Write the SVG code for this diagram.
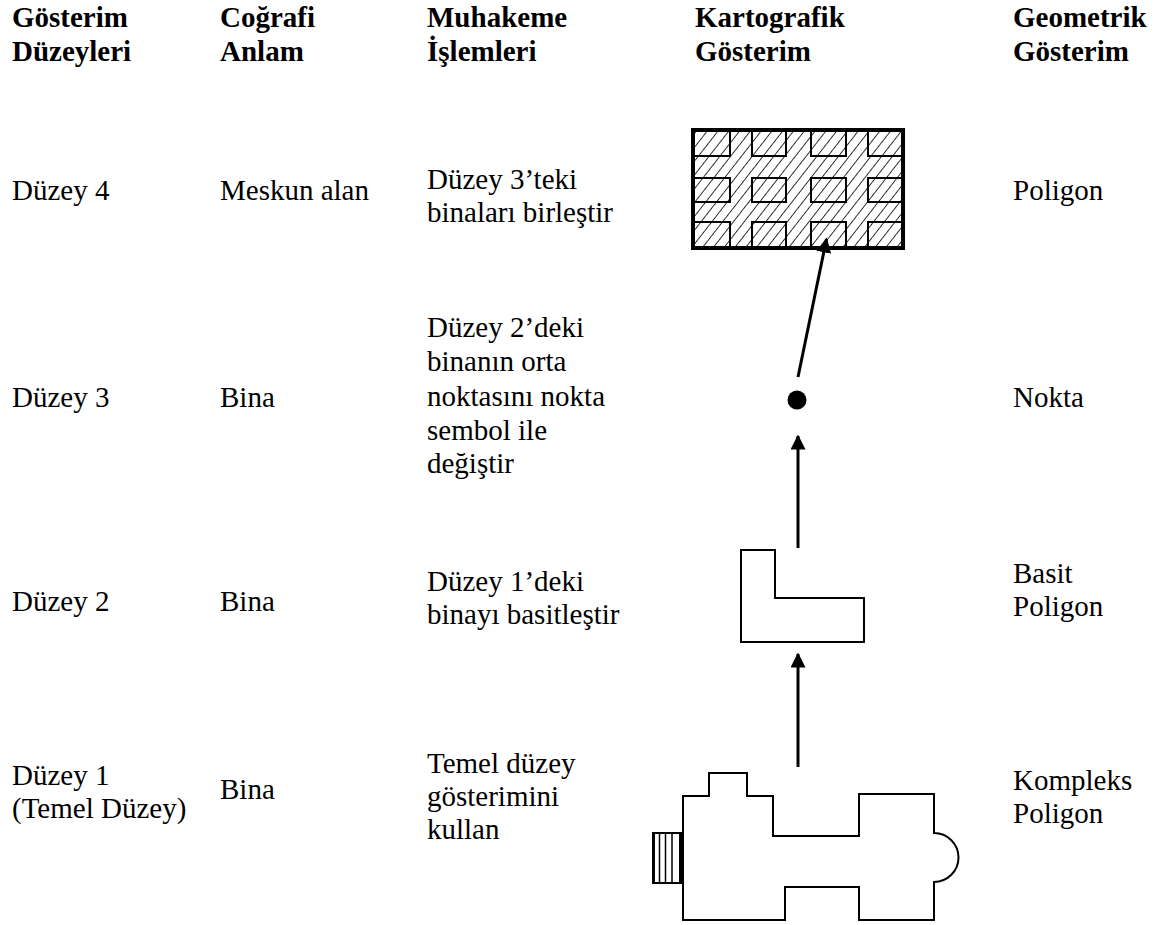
<svg xmlns="http://www.w3.org/2000/svg" width="1159" height="925" viewBox="0 0 1159 925">
<style>
.t text{font-size:29px;fill:#000}
.h{font-weight:bold}
.ln{fill:none;stroke:#000;stroke-width:2}
.ar{fill:none;stroke:#000;stroke-width:3}
</style>
<defs>
<marker id="ah" viewBox="0 0 10 10" refX="9" refY="5" markerWidth="5" markerHeight="5" markerUnits="strokeWidth" orient="auto">
<path d="M0,0 L10,5 L0,10 z" fill="#000"/>
</marker>
<pattern id="hatch" patternUnits="userSpaceOnUse" width="8.5" height="8.5" patternTransform="rotate(38)">
<line x1="0" y1="0" x2="0" y2="8.5" stroke="#000" stroke-width="1.6"/>
</pattern>
</defs>
<rect width="1159" height="925" fill="#fff"/>
<g class="t" font-family="Liberation Serif, Tinos, Times New Roman, DejaVu Serif, serif">
<g id="headers">
<text class="h" x="12" y="27">Gösterim</text><text class="h" x="12" y="61">Düzeyleri</text>
<text class="h" x="220" y="27">Coğrafi</text><text class="h" x="220" y="61">Anlam</text>
<text class="h" x="427" y="27">Muhakeme</text><text class="h" x="427" y="61">İşlemleri</text>
<text class="h" x="695" y="27">Kartografik</text><text class="h" x="695" y="61">Gösterim</text>
<text class="h" x="1013" y="27">Geometrik</text><text class="h" x="1013" y="61">Gösterim</text>
</g>
<g id="row4">
<text x="12" y="200">Düzey 4</text>
<text x="220" y="200">Meskun alan</text>
<text x="427" y="189">Düzey 3’teki</text><text x="427" y="222">binaları birleştir</text>
<text x="1013" y="200">Poligon</text>
</g>
<g id="row3">
<text x="12" y="407">Düzey 3</text>
<text x="220" y="407">Bina</text>
<text x="427" y="337">Düzey 2’deki</text><text x="427" y="371">binanın orta</text><text x="427" y="406">noktasını nokta</text><text x="427" y="440">sembol ile</text><text x="427" y="473">değiştir</text>
<text x="1013" y="407">Nokta</text>
</g>
<g id="row2">
<text x="12" y="611">Düzey 2</text>
<text x="220" y="611">Bina</text>
<text x="427" y="591">Düzey 1’deki</text><text x="427" y="624">binayı basitleştir</text>
<text x="1013" y="583">Basit</text><text x="1013" y="616">Poligon</text>
</g>
<g id="row1">
<text x="12" y="785">Düzey 1</text><text x="12" y="818">(Temel Düzey)</text>
<text x="220" y="799">Bina</text>
<text x="427" y="773">Temel düzey</text><text x="427" y="806">gösterimini</text><text x="427" y="839">kullan</text>
<text x="1013" y="790">Kompleks</text><text x="1013" y="823">Poligon</text>
</g>
</g>
<g id="settlement">
<rect x="693" y="130" width="210" height="118" fill="url(#hatch)"/>
<g class="ln">
<rect x="693" y="130" width="37" height="26"/><rect x="752" y="130" width="34" height="26"/><rect x="811" y="130" width="35" height="26"/><rect x="868" y="130" width="35" height="26"/>
<rect x="693" y="178" width="37" height="24"/><rect x="752" y="178" width="34" height="24"/><rect x="811" y="178" width="35" height="24"/><rect x="868" y="178" width="35" height="24"/>
<rect x="693" y="222" width="37" height="26"/><rect x="752" y="222" width="34" height="26"/><rect x="811" y="222" width="35" height="26"/><rect x="868" y="222" width="35" height="26"/>
</g>
<rect x="693" y="130" width="210" height="118" fill="none" stroke="#000" stroke-width="4"/>
</g>
<g id="point">
<circle cx="797" cy="400" r="9.5" fill="#000"/>
</g>
<g id="simple-building">
<path class="ln" d="M741,550 H775 V598 H864 V642 H741 Z"/>
</g>
<g id="complex-building">
<path class="ln" d="M683,796 H709 V773 H747 V796 H773 V836 H859 V794 H934 V833 A24.5 24.5 0 0 1 934 882 V920 H859 V887 H785 V920 H683 Z"/>
<rect x="653" y="833" width="30" height="50" fill="#fff" stroke="#000" stroke-width="2"/>
<line x1="653.5" y1="833" x2="653.5" y2="883" stroke="#000" stroke-width="3"/>
<line x1="681" y1="833" x2="681" y2="883" stroke="#000" stroke-width="4"/>
<g stroke="#000" stroke-width="1.5"><line x1="659.5" y1="833" x2="659.5" y2="883"/><line x1="665.5" y1="833" x2="665.5" y2="883"/><line x1="672" y1="833" x2="672" y2="883"/></g>
</g>
<g id="connectors">
<line class="ar" x1="798" y1="767" x2="798" y2="654" marker-end="url(#ah)"/>
<line class="ar" x1="798" y1="548" x2="798" y2="436" marker-end="url(#ah)"/>
<line class="ar" x1="798" y1="377" x2="826.5" y2="239" marker-end="url(#ah)"/>
</g>
</svg>
